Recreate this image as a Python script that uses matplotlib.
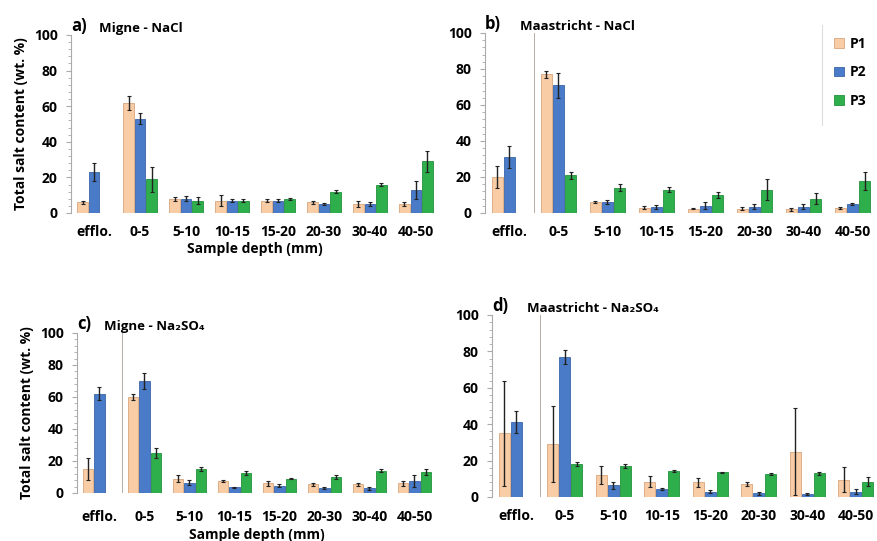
import matplotlib
matplotlib.use("Agg")
import matplotlib.pyplot as plt
from matplotlib.ticker import MultipleLocator
from matplotlib.lines import Line2D
import numpy as np

plt.rcParams['font.family'] = ['Open Sans', 'DejaVu Sans']
plt.rcParams['font.weight'] = 'bold'

depths = ["efflo.", "0-5", "5-10", "10-15", "15-20", "20-30", "30-40", "40-50"]
series = ["P1", "P2", "P3"]
colors = ["#f8cda6", "#4a7bc8", "#2fae4c"]
edges = ["#d8a57c", "#3a64a8", "#23903c"]

# a) Migne - NaCl
a_p1 = [6, 62, 8, 7, 7, 6, 5, 5]
a_p2 = [23, 53, 8, 7, 7, 5, 5, 13]
a_p3 = [0, 19, 7, 7, 8, 12, 16, 29]
a_e1 = [1, 4, 1, 3, 1, 1, 1.5, 1]
a_e2 = [5, 3, 1.5, 1, 1, 0.5, 1, 5]
a_e3 = [0, 7, 2, 1, 0.5, 1, 1, 6]

# b) Maastricht - NaCl
b_p1 = [20, 77, 6, 3, 2.5, 2.5, 2, 3]
b_p2 = [31, 71, 6, 3.5, 4, 3.5, 3.5, 5]
b_p3 = [0, 21, 14, 13, 10, 13, 8, 18]
b_e1 = [6, 2, 0.5, 1, 0.5, 1, 1, 0.5]
b_e2 = [6, 7, 1, 1, 2, 1.5, 1.5, 0.5]
b_e3 = [0, 2, 2, 1.5, 1.5, 6, 3, 5]

# c) Migne - Na2SO4
c_p1 = [15, 60, 9, 7.5, 6, 5.5, 5.5, 6]
c_p2 = [62, 70, 6.5, 3.5, 4.5, 3, 3, 7.5]
c_p3 = [0, 25, 15, 12.5, 9, 10, 14, 13]
c_e1 = [7, 2, 2, 0.5, 1.5, 1, 1, 1.5]
c_e2 = [4, 5, 1.5, 0.5, 1, 0.5, 1, 4]
c_e3 = [0, 3, 1, 1, 0.5, 1, 1, 2]

# d) Maastricht - Na2SO4
d_p1 = [35, 29, 12, 8.5, 8, 7, 25, 9.5]
d_p2 = [41, 77, 6.5, 4.5, 3, 2, 1.5, 3]
d_p3 = [0, 18, 17, 14.5, 13.5, 12.5, 13, 8.5]
d_e1 = [29, 21, 5, 3, 2.5, 1, 24, 7]
d_e2 = [6, 4, 2, 0.5, 1, 1, 0.5, 1.5]
d_e3 = [0, 1, 1, 0.5, 0.5, 0.5, 1, 2.5]

panels = [
    ("a)", "Migne - NaCl", [a_p1, a_p2, a_p3], [a_e1, a_e2, a_e3]),
    ("b)", "Maastricht - NaCl", [b_p1, b_p2, b_p3], [b_e1, b_e2, b_e3]),
    ("c)", "Migne - Na\u2082SO\u2084", [c_p1, c_p2, c_p3], [c_e1, c_e2, c_e3]),
    ("d)", "Maastricht - Na\u2082SO\u2084", [d_p1, d_p2, d_p3], [d_e1, d_e2, d_e3]),
]

W, H = 878, 541
# axes boxes in pixels: left, top(y=100), right, bottom(y=0)
boxes = [(71, 35, 439, 213), (485, 33, 877, 213), (77, 333, 437, 493), (492, 315, 880, 497)]

fig = plt.figure(figsize=(W / 100, H / 100), dpi=100)
x = np.arange(len(depths))
bw = 0.23
off = 0.25

for i, ((tag, title, vals, errs), (l, t, r, b)) in enumerate(zip(panels, boxes)):
    ax = fig.add_axes([l / W, 1 - b / H, (r - l) / W, (b - t) / H])
    for k in range(3):
        v = np.array(vals[k], dtype=float)
        e = np.array(errs[k], dtype=float)
        m = v > 0
        ax.bar(x[m] + (k - 1) * off, v[m], bw, color=colors[k], edgecolor=edges[k],
               linewidth=0.6, label=series[k])
        ax.errorbar(x[m] + (k - 1) * off, v[m], yerr=e[m], fmt="none", ecolor="#222222",
                    elinewidth=1.0, capsize=1.2, capthick=0.8)
    ax.set_xlim(-0.5, 7.5)
    ax.set_ylim(0, 100)
    if i > 0:
        ax.axvline(0.5, color="#b5aca5", linewidth=0.7)
    for s in ["top", "right", "bottom"]:
        ax.spines[s].set_visible(False)
    ax.spines["left"].set_color("#aaaaaa")
    ax.spines["left"].set_linewidth(0.8)
    ax.yaxis.set_major_locator(MultipleLocator(20))
    ax.yaxis.set_minor_locator(MultipleLocator(4))
    ax.tick_params(axis="y", which="both", color="#aaaaaa", labelsize=10, pad=6)
    ax.tick_params(axis="y", which="minor", length=2.5)
    ax.tick_params(axis="x", length=0, labelsize=10, pad=12 if i == 2 else 9)
    ax.set_xticks(x)
    ax.set_xticklabels(depths, fontweight="bold")
    for lab in ax.get_yticklabels():
        lab.set_fontweight("bold")
    ax.text(0.0, 1.0, tag, transform=ax.transAxes, fontsize=12, fontweight="bold",
            ha="left", va="bottom")
    ax.text(0.075 if i % 2 == 0 else 0.09, 1.0, title, transform=ax.transAxes, fontsize=9.5,
            fontweight="bold", ha="left", va="bottom")
    if i % 2 == 0:
        ax.set_ylabel("Total salt content (wt. %)", fontsize=10, fontweight="bold", labelpad=4)
        ax.set_xlabel("Sample depth (mm)", fontsize=10, fontweight="bold",
                      labelpad=2 if i == 0 else 3)
    if i == 1:
        leg = ax.legend(loc="upper right", bbox_to_anchor=(1.0, 1.04), frameon=False,
                        fontsize=10, handlelength=0.7, handleheight=0.7,
                        labelspacing=1.05, borderpad=0.3, handletextpad=0.4)
        for txt in leg.get_texts():
            txt.set_fontweight("bold")
        fig.add_artist(Line2D([822 / W, 822 / W], [1 - 25 / H, 1 - 125 / H],
                              color="#dddddd", linewidth=0.8))

fig.savefig("out.png", dpi=100)
